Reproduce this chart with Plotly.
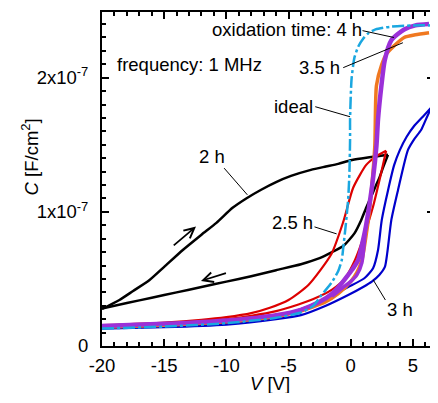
import plotly.graph_objects as go

# Units: V in volts, C in units of 1e-7 F/cm^2
SCALE = 1e-7

ideal_v = [-20, -15, -10, -6, -4, -3, -2.35, -1.55, -1, -0.72, -0.59, -0.4, -0.2, -0.1, -0.05, -0.05, 0.07, 0.3, 0.6, 1.0, 1.4, 2.0, 3.2, 5, 6.7]
ideal_c = [0.13, 0.145, 0.17, 0.21, 0.25, 0.3, 0.38, 0.47, 0.56, 0.64, 0.74, 0.9, 1.1, 1.3, 1.54, 1.69, 1.99, 2.15, 2.23, 2.29, 2.33, 2.36, 2.38, 2.39, 2.39]

h2_up_v = [-20, -18.6, -17.5, -16.2, -15, -13.5, -12, -10.8, -9.5, -8.4, -7.2, -6, -4.8, -3.2, -2, -1, 0, 1, 2, 3]
h2_up_c = [0.276, 0.343, 0.41, 0.49, 0.59, 0.716, 0.83, 0.918, 1.03, 1.10, 1.165, 1.222, 1.268, 1.313, 1.338, 1.358, 1.385, 1.40, 1.413, 1.425]
h2_dn_v = [3, 2.6, 2.34, 2.0, 1.65, 1.2, 0.85, 0.3, -0.6, -1.5, -2.5, -4, -6, -8, -10, -12, -14, -16, -18, -20]
h2_dn_c = [1.425, 1.33, 1.263, 1.19, 1.114, 1.02, 0.94, 0.84, 0.745, 0.70, 0.655, 0.61, 0.565, 0.52, 0.48, 0.44, 0.40, 0.36, 0.32, 0.28]

h25_a_v = [-20, -15, -12, -10, -8, -6.5, -5, -3.4, -1.55, -0.6, 0.2, 1.25, 2.0, 2.85]
h25_a_c = [0.155, 0.175, 0.195, 0.215, 0.245, 0.285, 0.343, 0.455, 0.686, 0.925, 1.18, 1.35, 1.41, 1.455]
h25_b_v = [2.85, 2.45, 1.8, 1.14, 0.34, -0.5, -1.5, -3, -4.2, -6, -8, -10, -13, -16, -20]
h25_b_c = [1.455, 1.29, 1.04, 0.84, 0.64, 0.5, 0.42, 0.35, 0.31, 0.26, 0.225, 0.2, 0.18, 0.165, 0.15]

h3_a_v = [-20, -15, -10, -6, -4, -2, -0.2, 1.1, 1.8, 2.2, 2.5, 3.0, 3.5, 3.95, 4.5, 5.1, 5.8, 6.5]
h3_a_c = [0.135, 0.15, 0.175, 0.22, 0.275, 0.355, 0.44, 0.505, 0.58, 0.716, 0.94, 1.16, 1.35, 1.46, 1.56, 1.64, 1.71, 1.78]
h3_b_v = [-20, -15, -10, -6, -4, -2, -0.2, 1.0, 1.7, 2.3, 2.75, 2.95, 3.27, 3.8, 4.6, 5.1, 5.66, 6.1, 6.5]
h3_b_c = [0.13, 0.14, 0.16, 0.2, 0.23, 0.3, 0.38, 0.44, 0.48, 0.53, 0.59, 0.7, 0.94, 1.16, 1.46, 1.54, 1.61, 1.7, 1.78]

h35_v = [-20, -15, -10, -6, -4, -2, -1, 0, 0.5, 0.9, 1.2, 1.5, 1.67, 1.94, 2.07, 2.5, 2.9, 3.4, 4.3, 5.2, 6.3]
h35_c = [0.14, 0.155, 0.18, 0.22, 0.26, 0.33, 0.39, 0.48, 0.55, 0.64, 0.8, 1.0, 1.16, 1.49, 1.94, 2.1, 2.18, 2.23, 2.30, 2.32, 2.335]

h4_a_v = [-20, -15, -10, -6, -4, -2.5, -1.5, -0.7, -0.2, 0.2, 0.6, 0.87, 1.2, 1.5, 1.8, 2.07, 2.2, 2.47, 2.74, 3.27, 4.3, 5.2, 6.3]
h4_a_c = [0.15, 0.165, 0.19, 0.23, 0.27, 0.33, 0.39, 0.47, 0.53, 0.58, 0.64, 0.74, 0.88, 1.05, 1.25, 1.49, 1.69, 1.94, 2.13, 2.28, 2.36, 2.39, 2.40]
h4_b_v = [-1.5, -0.7, 0.0, 0.5, 0.9, 1.2]
h4_b_c = [0.37, 0.43, 0.48, 0.53, 0.62, 0.88]

x_ticks = [-20, -15, -10, -5, 0, 5]
y_ticks = [0, 1, 2]
y_tick_text = ["0", "1x10<sup>-7</sup>", "2x10<sup>-7</sup>"]

FONT = "Liberation Sans, Arial, sans-serif"
FS = 18.5
BLACK = "#000000"
RED = "#DD0000"
BLUE = "#0000CC"
ORANGE = "#F07820"
PURPLE = "#9B30D8"
IDEAL = "#1AA7E0"

# page body has an 8px margin; plot area in page pixels: x 102..436, y 12..346
OFF = 8
PL, PT, PW, PH = 102, 12, 334, 334
FIG_W, FIG_H = 430, 385


def sc(vals):
    return [v * SCALE for v in vals]


def px(xp):
    return (xp - PL) / PW


def py(yp):
    return (PT + PH - yp) / PH


fig = go.Figure()


def add(v, c, color, width, dash="solid"):
    fig.add_trace(go.Scatter(x=v, y=sc(c), mode="lines",
                             line=dict(color=color, width=width, dash=dash, shape="spline", smoothing=0.6),
                             showlegend=False, hoverinfo="skip"))


add(h2_up_v, h2_up_c, BLACK, 2.5)
add(h2_dn_v, h2_dn_c, BLACK, 2.5)
add(h3_a_v, h3_a_c, BLUE, 2.2)
add(h3_b_v, h3_b_c, BLUE, 2.2)
add(h25_a_v, h25_a_c, RED, 2.2)
add(h25_b_v, h25_b_c, RED, 2.2)
add(h35_v, h35_c, ORANGE, 3.5)
add(h4_a_v, h4_a_c, PURPLE, 4.5)
add(h4_b_v, h4_b_c, PURPLE, 3.5)
add(ideal_v, ideal_c, IDEAL, 2.5, dash="12px,3px,3px,3px")

texts = [
    ("oxidation time: 4 h", 0.95, 2.358, "right"),
    ("frequency: 1 MHz", -18.88, 2.097, "left"),
    ("3.5 h", -0.75, 2.075, "right"),
    ("ideal", -2.92, 1.784, "right"),
    ("2 h", -11.17, 1.41, "center"),
    ("2.5 h", -4.68, 0.918, "center"),
    ("3 h", 3.96, 0.269, "center"),
]
for t, x, y, xa in texts:
    fig.add_annotation(x=x, y=y * SCALE, xref="x", yref="y", text=t, showarrow=False,
                       xanchor=xa, yanchor="middle", borderpad=0,
                       font=dict(family=FONT, size=FS, color="black"))

leaders = [
    (-0.6, 2.075, 4.2, 2.261),
    (0.95, 2.351, 3.48, 2.30),
    (-2.85, 1.784, -0.05, 1.709),
    (-10.18, 1.326, -8.31, 1.127),
    (-2.91, 0.888, -1.13, 0.836),
    (2.79, 0.343, 1.81, 0.493),
]
for x0, y0, x1, y1 in leaders:
    fig.add_shape(type="line", xref="x", yref="y", x0=x0, y0=y0 * SCALE, x1=x1, y1=y1 * SCALE,
                  line=dict(color="black", width=1))

arrows = [
    (-14.35, 0.741, -12.44, 0.89),
    (-9.91, 0.547, -12.04, 0.485),
]
for x0, y0, x1, y1 in arrows:
    fig.add_annotation(x=x1, y=y1 * SCALE, ax=x0, ay=y0 * SCALE, xref="x", yref="y", axref="x", ayref="y",
                       text="", showarrow=True, arrowhead=5, arrowsize=1.1, arrowwidth=1.8, arrowcolor="black")

fig.add_annotation(x=px(30), y=py(157), xref="paper", yref="paper", xanchor="center", yanchor="middle",
                   text="<i>C</i> [F/cm<sup>2</sup>]", textangle=-90, showarrow=False,
                   font=dict(family=FONT, size=FS, color="black"))
fig.add_annotation(x=px(271), y=py(383), xref="paper", yref="paper", xanchor="center", yanchor="middle",
                   text="<i>V</i> [V]", showarrow=False,
                   font=dict(family=FONT, size=FS, color="black"))

axis_common = dict(showline=True, linewidth=2, linecolor="black", mirror="allticks", ticks="inside",
                   tickwidth=2, tickcolor="black", ticklen=7, showgrid=False, zeroline=False,
                   tickfont=dict(family=FONT, size=FS, color="black"))

fig.update_xaxes(range=[-20, 6.7], tickmode="array", tickvals=x_ticks, ticktext=[str(v) for v in x_ticks],
                 ticklabelstandoff=2,
                 minor=dict(tickmode="linear", tick0=0, dtick=1, ticks="inside", ticklen=4, tickwidth=1.5, tickcolor="black"),
                 **axis_common)
fig.update_yaxes(range=[0, 2.49 * SCALE], tickmode="array", tickvals=sc(y_ticks), ticktext=y_tick_text,
                 ticklabelstandoff=8,
                 minor=dict(tickmode="linear", tick0=0, dtick=0.1 * SCALE, ticks="inside", ticklen=4, tickwidth=1.5, tickcolor="black"),
                 **axis_common)

fig.update_layout(width=FIG_W, height=FIG_H,
                  margin=dict(l=PL - OFF, r=FIG_W - (PL - OFF) - PW, t=PT - OFF, b=FIG_H - (PT - OFF) - PH),
                  plot_bgcolor="white", paper_bgcolor="white",
                  font=dict(family=FONT, size=FS, color="black"))

fig.write_html("out.html")
